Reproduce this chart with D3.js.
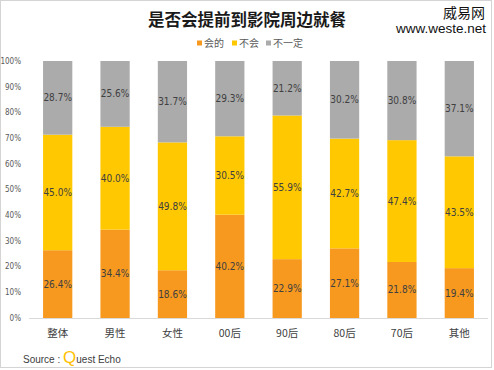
<!DOCTYPE html>
<html lang="zh">
<head>
<meta charset="UTF-8">
<script src="https://d3js.org/d3.v7.min.js"></script>
<title>是否会提前到影院周边就餐</title>
<style>
  body { margin: 0; background: #fff; }
  .cjk { font-family: "Noto Sans CJK SC", sans-serif; }
  .num { font-family: "DejaVu Sans Condensed", "DejaVu Sans", sans-serif; font-stretch: condensed; }
</style>
</head>
<body>
<svg id="chart" width="494" height="370"></svg>
<script>
// data
var categories = ["整体", "男性", "女性", "00后", "90后", "80后", "70后", "其他"];
var seriesNames = ["会的", "不会", "不一定"];
var huide   = [26.4, 34.4, 18.6, 40.2, 22.9, 27.1, 21.8, 19.4];
var buhui   = [45.0, 40.0, 49.8, 30.5, 55.9, 42.7, 47.4, 43.5];
var buyiding = [28.7, 25.6, 31.7, 29.3, 21.2, 30.2, 30.8, 37.1];
var yTicks = [0, 0.1, 0.2, 0.3, 0.4, 0.5, 0.6, 0.7, 0.8, 0.9, 1];

var colors = ["#F7991F", "#FFC800", "#ABABAB"];

var rows = categories.map(function(c, i) {
  return { cat: c, "会的": huide[i], "不会": buhui[i], "不一定": buyiding[i] };
});

var svg = d3.select("#chart");

// frame
svg.append("rect")
  .attr("x", 0.5).attr("y", 0.5)
  .attr("width", 491).attr("height", 367)
  .attr("fill", "#fff").attr("stroke", "#d4d4d4");

var x = d3.scaleBand()
  .domain(categories)
  .range([29, 488])
  .paddingInner(0.49)
  .paddingOuter(0.245);

var y = d3.scaleLinear().domain([0, 1]).range([318, 61]);

var stack = d3.stack().keys(seriesNames).offset(d3.stackOffsetExpand);
var layers = stack(rows);

// y axis labels
svg.append("g").selectAll("text")
  .data(yTicks)
  .enter().append("text")
    .attr("class", "num")
    .attr("x", 21)
    .attr("y", function(d) { return y(d); })
    .attr("dy", "0.35em")
    .attr("text-anchor", "end")
    .attr("font-size", 8)
    .attr("fill", "#595959")
    .text(d3.format(".0%"));

// bars
var g = svg.append("g");
layers.forEach(function(layer, li) {
  var lg = g.append("g");
  lg.selectAll("rect")
    .data(layer)
    .enter().append("rect")
      .attr("x", function(d) { return x(d.data.cat); })
      .attr("y", function(d) { return y(d[1]); })
      .attr("width", x.bandwidth())
      .attr("height", function(d) { return y(d[0]) - y(d[1]); })
      .attr("fill", colors[li]);
  lg.selectAll("text")
    .data(layer)
    .enter().append("text")
      .attr("class", "num")
      .attr("x", function(d) { return x(d.data.cat) + x.bandwidth() / 2; })
      .attr("y", function(d) { return (y(d[0]) + y(d[1])) / 2; })
      .attr("dy", "0.35em")
      .attr("text-anchor", "middle")
      .attr("font-size", 10)
      .attr("fill", "#404040")
      .text(function(d) { return d.data[layer.key].toFixed(1) + "%"; });
});

// x axis line
svg.append("line")
  .attr("x1", 29).attr("x2", 488)
  .attr("y1", 318.5).attr("y2", 318.5)
  .attr("stroke", "#d9d9d9");

// x labels
svg.append("g").selectAll("text")
  .data(categories)
  .enter().append("text")
    .attr("class", "cjk")
    .attr("x", function(d) { return x(d) + x.bandwidth() / 2; })
    .attr("y", 333)
    .attr("dy", "0.35em")
    .attr("text-anchor", "middle")
    .attr("font-size", 10.5)
    .attr("fill", "#404040")
    .text(function(d) { return d; });

// title
svg.append("text")
  .attr("class", "cjk")
  .attr("x", 247).attr("y", 20)
  .attr("dy", "0.35em")
  .attr("text-anchor", "middle")
  .attr("font-size", 16.5)
  .attr("font-weight", "bold")
  .attr("fill", "#1a1a1a")
  .text("是否会提前到影院周边就餐");

// legend
var legendX = [197, 232, 266];
var leg = svg.append("g").selectAll("g")
  .data(seriesNames)
  .enter().append("g")
    .attr("transform", function(d, i) { return "translate(" + legendX[i] + ",43)"; });
leg.append("rect")
  .attr("x", 0).attr("y", -2.5)
  .attr("width", 5).attr("height", 5)
  .attr("fill", function(d, i) { return colors[i]; });
leg.append("text")
  .attr("class", "cjk")
  .attr("x", 7).attr("y", 0)
  .attr("dy", "0.35em")
  .attr("font-size", 10)
  .attr("fill", "#595959")
  .text(function(d) { return d; });

// watermark
svg.append("text")
  .attr("class", "cjk")
  .attr("x", 485).attr("y", 13)
  .attr("dy", "0.35em")
  .attr("text-anchor", "end")
  .attr("font-size", 14)
  .attr("fill", "#111")
  .text("威易网");
svg.append("text")
  .attr("x", 486).attr("y", 28)
  .attr("dy", "0.35em")
  .attr("text-anchor", "end")
  .attr("font-family", "Liberation Sans, Arial, sans-serif")
  .attr("font-size", 13.5)
  .attr("fill", "#111")
  .text("www.weste.net");

// source
var src = svg.append("text")
  .attr("x", 23).attr("y", 363)
  .attr("font-family", "Liberation Sans, Arial, sans-serif")
  .attr("fill", "#404040");
src.append("tspan").attr("font-size", 10).text("Source : ");
src.append("tspan").attr("font-size", 17).attr("fill", "#FFC000").text("Q");
src.append("tspan").attr("font-size", 10).text("uest Echo");
</script>
</body>
</html>
